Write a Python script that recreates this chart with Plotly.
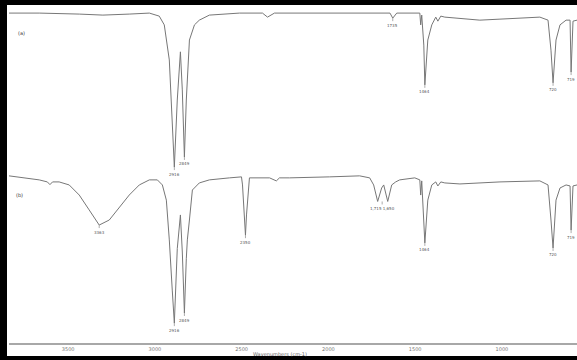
import plotly.graph_objects as go

# Wavenumbers (cm-1) and transmittance-like values (offset stacked)
wn_a = [3841, 3667, 3436, 3300, 3148, 3032, 2975, 2946, 2917, 2900, 2888, 2871, 2853, 2842, 2830,
        2819, 2801, 2772, 2744, 2686, 2513, 2380, 2351, 2311, 1993, 1645, 1629, 1606, 1473, 1468,
        1462, 1450, 1444, 1427, 1404, 1381, 1369, 1352, 1329, 1127, 1011, 781, 734, 717, 705, 688,
        665, 630, 607, 601, 590, 567]
t_a = [97.9, 97.9, 97.6, 97.3, 97.6, 97.9, 97.0, 94.4, 84.0, 66.2, 52.2, 72.1, 86.4, 75.1, 55.2,
       72.1, 89.9, 94.4, 95.8, 97.3, 97.9, 97.9, 96.7, 97.9, 97.9, 97.9, 96.4, 97.9, 97.9, 94.4,
       97.3, 88.4, 76.6, 89.9, 94.4, 96.7, 95.5, 97.0, 96.7, 95.8, 96.1, 96.7, 95.8, 86.9, 77.2, 89.9,
       94.4, 95.8, 95.8, 80.4, 95.5, 95.8]

wn_b = [3841, 3667, 3620, 3605, 3590, 3552, 3494, 3436, 3379, 3321, 3263, 3206, 3148, 3090, 3032,
        2986, 2957, 2934, 2917, 2900, 2888, 2871, 2853, 2842, 2830, 2819, 2813, 2801, 2784, 2744,
        2686, 2570, 2501, 2495, 2490, 2478, 2472, 2455, 2339, 2300, 2282, 2224, 1993, 1820, 1762,
        1739, 1716, 1693, 1681, 1658, 1635, 1612, 1589, 1502, 1473, 1468, 1462, 1450, 1444, 1427,
        1404, 1381, 1369, 1352, 1329, 1242, 1011, 781, 734, 717, 705, 688, 665, 630, 607, 601, 590, 567]
t_b = [49.6, 48.4, 47.8, 47.0, 47.8, 47.8, 46.9, 43.9, 39.5, 35.0, 36.5, 40.1, 43.9, 46.9, 48.4,
       48.4, 46.9, 42.4, 30.6, 15.7, 5.9, 28.0, 38.0, 27.0, 8.9, 25.0, 30.6, 36.5, 45.4, 47.5,
       48.4, 49.0, 49.3, 46.9, 43.0, 32.0, 38.0, 49.0, 49.0, 48.1, 49.0, 49.0, 49.3, 49.6, 49.0,
       46.9, 42.0, 46.0, 46.9, 42.0, 46.9, 47.8, 48.4, 49.0, 48.4, 43.9, 48.1, 36.5, 29.7, 42.4,
       46.9, 47.8, 46.6, 47.8, 47.5, 47.2, 47.8, 48.1, 46.9, 36.5, 28.2, 42.4, 46.0, 46.9, 46.6, 33.5, 46.6, 46.9]

peaks_a_wn = [2888, 2830, 1629, 1444, 705, 601]
peaks_a_t = [52.2, 55.2, 96.4, 76.6, 77.2, 80.4]
peaks_a_lbl = ["2916", "2849", "1735", "1464", "720", "719"]

peaks_b_wn = [3321, 2888, 2830, 2478, 1690, 1444, 705, 601]
peaks_b_t = [35.0, 5.9, 8.9, 32.0, 42.0, 29.7, 28.2, 33.5]
peaks_b_lbl = ["3363", "2916", "2849", "2350", "1,715 1,650", "1464", "720", "719"]

tick_vals = [3500, 3000, 2500, 2000, 1500, 1000]
tick_text = ["3500", "3000", "2500", "2000", "1500", "1000"]

W, H = 577, 360
fig = go.Figure()
line_col = "#777777"
fig.add_trace(go.Scatter(x=wn_a, y=t_a, mode="lines", line=dict(color=line_col, width=1), showlegend=False))
fig.add_trace(go.Scatter(x=wn_b, y=t_b, mode="lines", line=dict(color=line_col, width=1), showlegend=False))

for xs, ys, ls in ((peaks_a_wn, peaks_a_t, peaks_a_lbl), (peaks_b_wn, peaks_b_t, peaks_b_lbl)):
    for x, y, l in zip(xs, ys, ls):
        fig.add_annotation(x=x, y=y, text=l, showarrow=True, ax=0, ay=7, arrowhead=0,
                           arrowwidth=0.7, arrowcolor="#888", standoff=0,
                           font=dict(size=4, color="#555", family="DejaVu Sans"))

fig.add_annotation(x=3770, y=92, text="(a)", showarrow=False, font=dict(size=5, color="#333", family="DejaVu Sans"))
fig.add_annotation(x=3780, y=44, text="(b)", showarrow=False, font=dict(size=5, color="#333", family="DejaVu Sans"))

fig.add_annotation(xref="paper", yref="paper", x=280 / W, y=6.5 / H, yanchor="middle",
                   text="Wavenumbers (cm-1)", showarrow=False,
                   font=dict(size=5, color="#666", family="DejaVu Sans"))

# image frame (thick black border on left, top, bottom)
for x0, x1, y0, y1 in ((0, 7 / W, 0, 1), (0, 1, 1 - 5 / H, 1), (0, 1, 0, 4 / H)):
    fig.add_shape(type="rect", xref="paper", yref="paper", x0=x0, x1=x1, y0=y0, y1=y1,
                  fillcolor="black", line=dict(width=0), layer="above")

fig.update_layout(
    width=W, height=H, margin=dict(l=0, r=0, t=0, b=0),
    paper_bgcolor="white", plot_bgcolor="white",
    xaxis=dict(domain=[9 / W, 1], range=[3841, 567], showgrid=False, zeroline=False,
               showline=True, linecolor="#a8a8a8", linewidth=2, ticks="",
               tickvals=tick_vals, ticktext=tick_text,
               tickfont=dict(size=5, color="#777", family="DejaVu Sans")),
    yaxis=dict(domain=[(360 - 343) / H, (360 - 6) / H], range=[0, 100], visible=False),
)

fig.write_html("out.html", config={"displayModeBar": False},
               post_script="document.body.style.margin='0px';document.body.style.overflow='hidden';")
